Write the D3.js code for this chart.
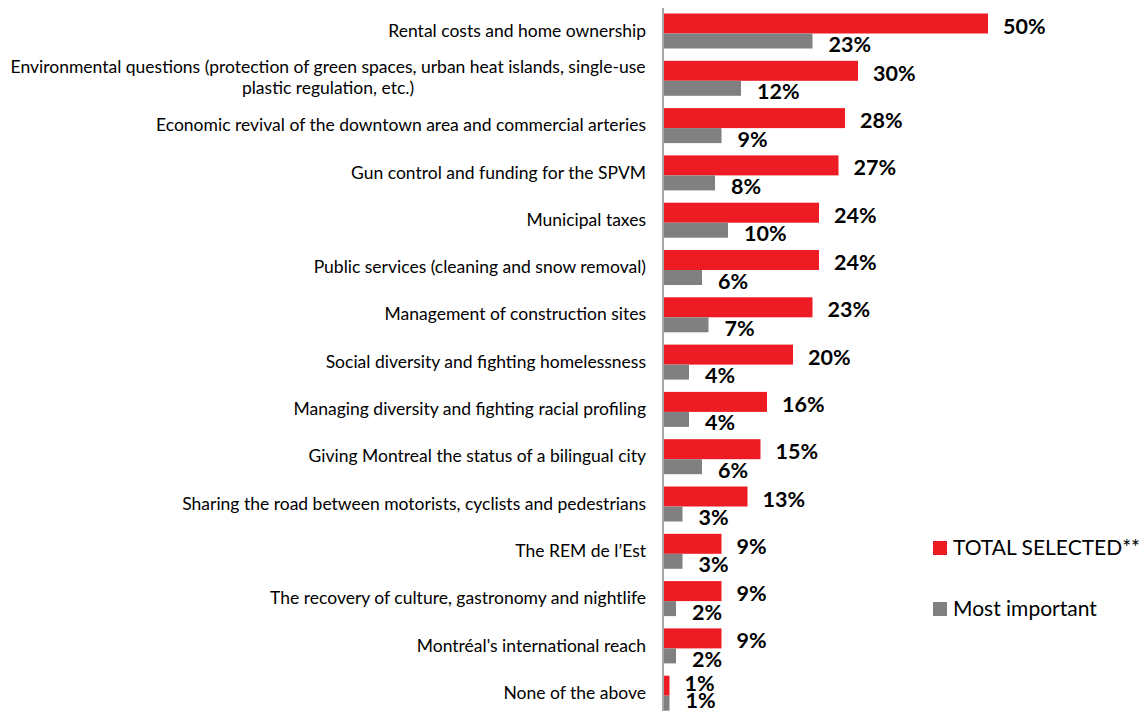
<!DOCTYPE html>
<html><head><meta charset="utf-8">
<script src="https://cdn.jsdelivr.net/npm/d3@7"></script>
<style>body{margin:0;background:#fff}svg{display:block}</style>
</head><body>
<script>
const categories = [
  "Rental costs and home ownership",
  "Environmental questions (protection of green spaces, urban heat islands, single-use|plastic regulation, etc.)",
  "Economic revival of the downtown area and commercial arteries",
  "Gun control and funding for the SPVM",
  "Municipal taxes",
  "Public services (cleaning and snow removal)",
  "Management of construction sites",
  "Social diversity and fighting homelessness",
  "Managing diversity and fighting racial profiling",
  "Giving Montreal the status of a bilingual city",
  "Sharing the road between motorists, cyclists and pedestrians",
  "The REM de l\u2019Est",
  "The recovery of culture, gastronomy and nightlife",
  "Montr\u00e9al's international reach",
  "None of the above"
];
const totalSelected = [50,30,28,27,24,24,23,20,16,15,13,9,9,9,1];
const mostImportant = [23,12,9,8,10,6,7,4,4,6,3,3,2,2,1];
const seriesNames = ["TOTAL SELECTED**","Most important"];
const colors = ["#ED1C24","#808080"];

const W=1139,H=711;
const font = "Lato, 'Liberation Sans', sans-serif";
const svg = d3.select("body").append("svg").attr("width",W).attr("height",H);

const x0 = 663;
const x = d3.scaleLinear().domain([0,50]).range([x0, 988]);
const y = d3.scaleBand().domain(categories).range([6.5, 6.5+15*47.3]).paddingInner(0).paddingOuter(0);

const g = svg.append("g");
categories.forEach((c,i)=>{
  const b = y(c);
  g.append("rect").attr("x",x(0)).attr("y",b+7).attr("width",x(totalSelected[i])-x(0)).attr("height",20).attr("fill",colors[0]);
  g.append("rect").attr("x",x(0)).attr("y",b+27).attr("width",x(mostImportant[i])-x(0)).attr("height",15).attr("fill",colors[1]);
  const gy = Math.min(b+38, H-10.5);
  const ry = Math.min(b+19.5, gy-17);
  g.append("text").attr("x",x(totalSelected[i])+15).attr("y",ry).attr("dy","0.35em")
    .attr("font-family",font).attr("font-weight","bold").attr("font-size",21.5).attr("fill","#000")
    .text(totalSelected[i]+"%");
  g.append("text").attr("x",x(mostImportant[i])+16).attr("y",gy).attr("dy","0.35em")
    .attr("font-family",font).attr("font-weight","bold").attr("font-size",21.5).attr("fill","#000")
    .text(mostImportant[i]+"%");
  const lines = c.split("|");
  const cy = b+24;
  const t = g.append("text").attr("text-anchor", lines.length>1 ? "middle":"end")
    .attr("font-family",font).attr("font-size",17.5).attr("fill","#000");
  lines.forEach((ln,k)=>{
    t.append("tspan").attr("x", lines.length>1 ? 328 : 646)
      .attr("y", cy + (k-(lines.length-1)/2)*21).attr("dy","0.35em").text(ln);
  });
});

svg.append("line").attr("x1",x0).attr("x2",x0).attr("y1",8).attr("y2",H).attr("stroke","#A6A6A6").attr("stroke-width",2);

const leg = svg.append("g");
seriesNames.forEach((s,i)=>{
  const ly = 548 + i*61;
  leg.append("rect").attr("x",933).attr("y",ly-7).attr("width",14).attr("height",14).attr("fill",colors[i]);
  leg.append("text").attr("x",953).attr("y",ly).attr("dy","0.35em").attr("font-family",font)
    .attr("font-size",21).attr("fill","#000").text(s);
});
</script>
</body></html>
